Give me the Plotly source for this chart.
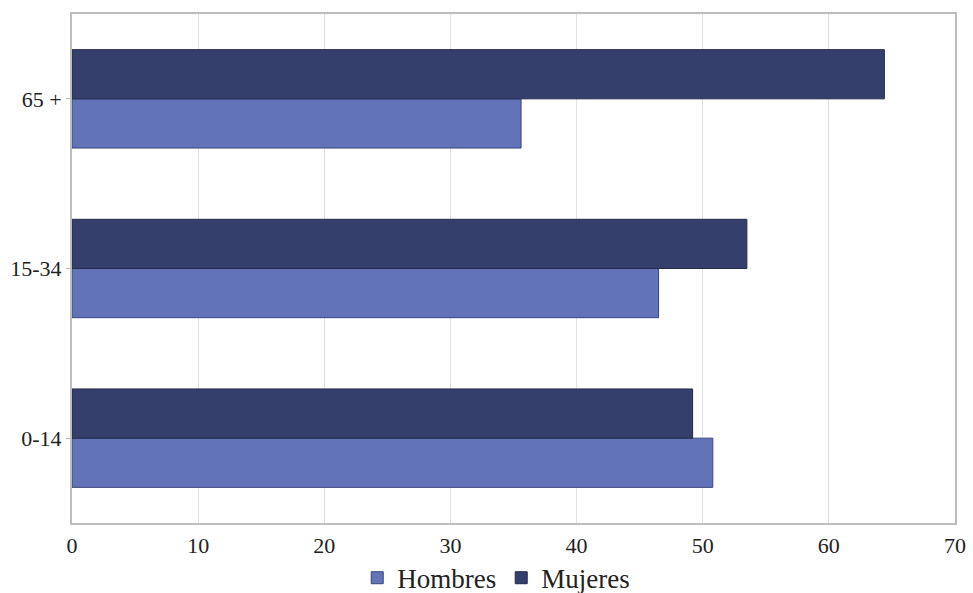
import plotly.graph_objects as go

categories = ["0-14", "15-34", "65 +"]
hombres = [50.8, 46.5, 35.6]
mujeres = [49.2, 53.5, 64.4]
x_ticks = [0, 10, 20, 30, 40, 50, 60, 70]

fig = go.Figure()
fig.add_trace(go.Bar(
    y=categories, x=hombres, name="Hombres", orientation="h",
    marker=dict(color="#6273b7", line=dict(color="#3a4680", width=1)),
))
fig.add_trace(go.Bar(
    y=categories, x=mujeres, name="Mujeres", orientation="h",
    marker=dict(color="#353f6c", line=dict(color="#232a4c", width=1)),
))

fig.update_layout(
    width=973, height=593,
    margin=dict(l=72, r=18, t=14, b=70, autoexpand=False),
    barmode="group", bargap=0.42, bargroupgap=0,
    plot_bgcolor="white", paper_bgcolor="white",
    font=dict(family="Liberation Serif", size=22, color="#222222"),
    showlegend=True,
    legend=dict(orientation="h", x=0.51, xanchor="center", xref="container",
                y=0.025, yanchor="middle", yref="container",
                font=dict(size=27), traceorder="normal", itemwidth=30),
    xaxis=dict(range=[0, 70], tickvals=x_ticks, showgrid=True, gridcolor="#e2e2e2",
               gridwidth=1, showline=True, linecolor="#bdbdbd", linewidth=2, mirror=True,
               zeroline=False, ticks="", ticklen=0, ticklabelstandoff=2, automargin=False),
    yaxis=dict(showline=True, linecolor="#bdbdbd", linewidth=2, mirror=True,
               showgrid=False, ticks="outside", ticklen=4, tickcolor="#bdbdbd",
               automargin=False, ticklabelstandoff=0),
)

fig.write_html("out.html", config={"displayModeBar": False},
               post_script="document.body.style.margin='0';")
